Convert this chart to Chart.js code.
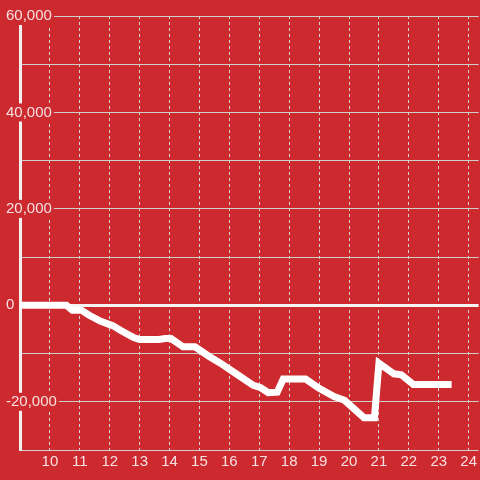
<!DOCTYPE html>
<html><head><meta charset="utf-8">
<script src="https://cdn.jsdelivr.net/npm/chart.js@4"></script>
<style>html,body{margin:0;padding:0;background:#cc2a2f;} #wrap{width:480px;height:480px;position:relative;}</style>
</head><body><div id="wrap"><canvas id="c"></canvas></div>
<script>
const hours = [8.9, 10.55, 10.75, 11.05, 11.3, 11.7, 12.1, 12.4, 12.8, 13.0, 13.65, 13.85, 14.05, 14.45, 14.85, 15.3, 15.7, 16.3, 16.8, 17.05, 17.3, 17.6, 17.8, 18.55, 19.0, 19.5, 19.85, 20.5, 20.85, 21.0, 21.5, 21.75, 22.15, 23.43];
const values = [0, 0, -1000, -1000, -2000, -3300, -4200, -5300, -6700, -7100, -7100, -6900, -6900, -8600, -8600, -10500, -12000, -14500, -16600, -17100, -18100, -18000, -15300, -15300, -17200, -18900, -19700, -23300, -23300, -12000, -14200, -14400, -16400, -16400];
const xTickValues = [10, 11, 12, 13, 14, 15, 16, 17, 18, 19, 20, 21, 22, 23, 24];
const yGridValues = [-30000, -20000, -10000, 0, 10000, 20000, 30000, 40000, 50000, 60000];
const yLabelValues = [-20000, 0, 20000, 40000, 60000];

const BG = '#cc2a2f';
const TEXT = 'rgba(255,255,255,0.85)';
const FONT = {family: '"Liberation Sans", Arial, sans-serif', size: 15};

const bgPlugin = {
  id: 'bg',
  beforeDraw(chart) {
    const c = chart.ctx;
    c.save(); c.fillStyle = BG; c.fillRect(0, 0, chart.width, chart.height); c.restore();
  }
};

new Chart(document.getElementById('c'), {
  type: 'line',
  data: {
    datasets: [{
      data: hours.map((h, i) => ({x: h, y: values[i]})),
      borderColor: '#ffffff',
      borderWidth: 7,
      pointRadius: 0,
      tension: 0,
      fill: false,
      borderJoinStyle: 'miter'
    }]
  },
  options: {
    responsive: true,
    maintainAspectRatio: false,
    animation: false,
    layout: {padding: {left: 6, top: 16, right: 0, bottom: 6}},
    plugins: {legend: {display: false}, tooltip: {enabled: false}},
    scales: {
      x: {
        type: 'linear',
        min: 9,
        max: 24 + 1/3,
        afterBuildTicks: (s) => { s.ticks = xTickValues.map(v => ({value: v})); },
        grid: {color: '#d6d6d6', lineWidth: 1, drawTicks: false},
        border: {display: false, dash: [3, 3]},
        ticks: {color: TEXT, font: FONT, padding: 3, maxRotation: 0, autoSkip: false}
      },
      y: {
        type: 'linear',
        min: -30000,
        max: 60000,
        afterBuildTicks: (s) => { s.ticks = yGridValues.map(v => ({value: v})); },
        afterFit: (s) => { s.width = 14; },
        grid: {
          color: (ctx) => ctx.tick && ctx.tick.value === 0 ? '#f4f4f4' : '#cfcfcf',
          lineWidth: (ctx) => ctx.tick && ctx.tick.value === 0 ? 3 : 1,
          drawTicks: false
        },
        border: {display: true, color: '#f0f0f0', width: 3},
        ticks: {
          color: TEXT, font: FONT, mirror: true, padding: -14, crossAlign: 'near', autoSkip: false, z: 1,
          callback: (v) => yLabelValues.includes(v) ? v.toLocaleString('en-US') : '',
          showLabelBackdrop: (ctx) => yLabelValues.includes(ctx.tick.value),
          backdropColor: BG,
          backdropPadding: {left: 2, right: 2, top: 0, bottom: 0}
        }
      }
    }
  },
  plugins: [bgPlugin]
});
</script>
</body></html>
